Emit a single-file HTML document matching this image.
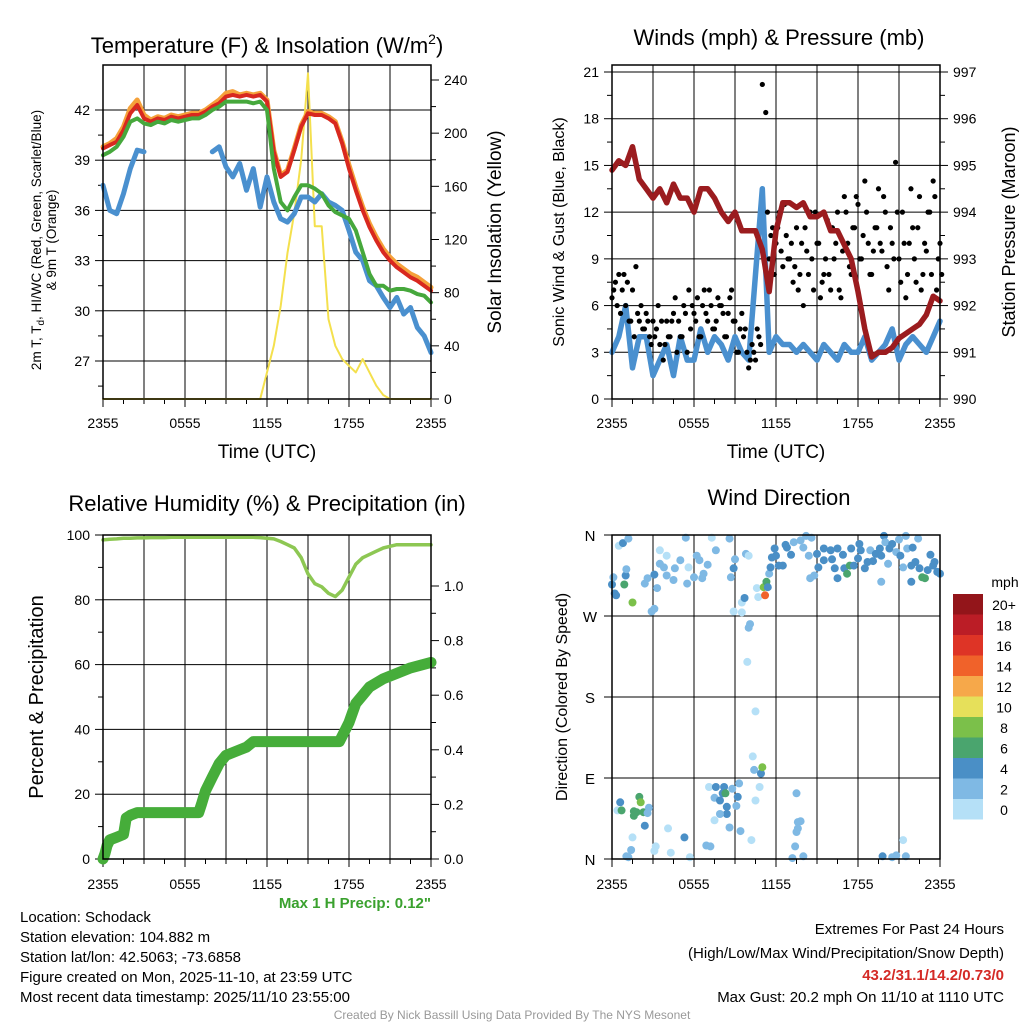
<!DOCTYPE html>
<html><head><meta charset="utf-8"><style>
html,body{margin:0;padding:0;background:#fff}
svg{display:block;font-family:"Liberation Sans",Arial,sans-serif}
</style></head><body>
<svg id="c" width="1024" height="1024" viewBox="0 0 1024 1024">
<g id="g"></g>
<text x="267" y="53" font-size="22" text-anchor="middle">Temperature (F) &amp; Insolation (W/m<tspan dy="-9" font-size="14">2</tspan><tspan dy="9">)</tspan></text>
<text x="779" y="45" font-size="22" text-anchor="middle">Winds (mph) &amp; Pressure (mb)</text>
<text x="267" y="511" font-size="22" text-anchor="middle">Relative Humidity (%) &amp; Precipitation (in)</text>
<text x="779" y="505" font-size="22" text-anchor="middle">Wind Direction</text>
<text x="267" y="458" font-size="19" text-anchor="middle">Time (UTC)</text>
<text x="776" y="458" font-size="19" text-anchor="middle">Time (UTC)</text>
<text transform="translate(41,240) rotate(-90)" font-size="13.5" text-anchor="middle">2m T, T<tspan font-size="10" dy="3">d</tspan><tspan dy="-3">, HI/WC (Red, Green, Scarlet/Blue)</tspan></text>
<text transform="translate(56,240) rotate(-90)" font-size="13.5" text-anchor="middle">&amp; 9m T (Orange)</text>
<text transform="translate(501,232) rotate(-90)" font-size="19" text-anchor="middle">Solar Insolation (Yellow)</text>
<text transform="translate(564,232) rotate(-90)" font-size="16" text-anchor="middle">Sonic Wind &amp; Gust (Blue, Black)</text>
<text transform="translate(1015,232) rotate(-90)" font-size="18" text-anchor="middle">Station Pressure (Maroon)</text>
<text transform="translate(43,697) rotate(-90)" font-size="20" text-anchor="middle">Percent &amp; Precipitation</text>
<text transform="translate(567,697) rotate(-90)" font-size="16" text-anchor="middle">Direction (Colored By Speed)</text>
<text x="431" y="908" font-size="15" font-weight="bold" fill="#3aa12e" text-anchor="end">Max 1 H Precip: 0.12"</text>
<g font-size="15">
<text x="20" y="922">Location: Schodack</text>
<text x="20" y="942">Station elevation: 104.882 m</text>
<text x="20" y="962">Station lat/lon: 42.5063; -73.6858</text>
<text x="20" y="982">Figure created on Mon, 2025-11-10, at 23:59 UTC</text>
<text x="20" y="1002">Most recent data timestamp: 2025/11/10 23:55:00</text>
</g>
<g font-size="15" text-anchor="end">
<text x="1004" y="934">Extremes For Past 24 Hours</text>
<text x="1004" y="958">(High/Low/Max Wind/Precipitation/Snow Depth)</text>
<text x="1004" y="980" fill="#d42a26" font-weight="bold">43.2/31.1/14.2/0.73/0</text>
<text x="1004" y="1002">Max Gust: 20.2 mph On 11/10 at 1110 UTC</text>
</g>
<text x="512" y="1019" font-size="12" fill="#999" text-anchor="middle">Created By Nick Bassill Using Data Provided By The NYS Mesonet</text>
</svg>
<script>
// ---- data ----
const timeLabels=["2355","0555","1155","1755","2355"];
const tempTicks=[27,30,33,36,39,42];
const solarTicks=[0,40,80,120,160,200,240];
const windTicks=[0,3,6,9,12,15,18,21];
const presTicks=[990,991,992,993,994,995,996,997];
const rhTicks=[0,20,40,60,80,100];
const precTicks=[0,0.2,0.4,0.6,0.8,1.0];
const dirTicks=["N","E","S","W","N"];
const tempRed=[39.7,39.9,40.1,40.8,41.8,42.3,41.5,41.3,41.5,41.4,41.6,41.5,41.6,41.7,41.7,41.9,42.2,42.4,42.8,42.9,42.8,42.9,42.8,42.9,42.5,39.5,38.0,38.3,39.6,41.0,41.8,41.7,41.7,41.5,41.2,40.0,38.5,37.2,36.0,35.0,34.2,33.5,33.0,32.6,32.3,32.0,31.8,31.5,31.2];
const temp9m=[39.8,40.0,40.3,41.0,42.1,42.6,41.7,41.4,41.6,41.5,41.7,41.6,41.7,41.8,41.8,42.0,42.3,42.6,43.0,43.1,42.9,43.0,42.9,43.0,42.6,39.6,38.1,38.4,39.7,41.1,41.9,41.8,41.8,41.6,41.3,40.1,38.7,37.4,36.2,35.2,34.4,33.7,33.2,32.8,32.5,32.2,32.0,31.7,31.4];
const tempGreen=[39.3,39.5,39.8,40.4,41.3,41.5,41.2,41.1,41.3,41.2,41.4,41.3,41.4,41.5,41.5,41.7,42.0,42.2,42.5,42.5,42.5,42.5,42.4,42.5,42.0,38.5,36.5,36.0,36.8,37.5,37.5,37.3,37.0,36.3,35.9,35.7,35.5,34.8,33.5,32.2,31.5,31.5,31.2,31.3,31.3,31.2,31.0,30.9,30.5];
const dewBlue=[37.5,36.0,35.8,37.0,38.5,39.6,39.5,null,null,null,null,null,null,null,null,null,39.5,39.8,38.6,38.0,38.8,37.2,38.5,36.2,38.0,36.5,35.5,35.3,35.8,36.8,36.8,36.5,37.0,36.5,36.3,36.0,34.8,33.5,33.0,31.8,31.5,30.8,30.2,30.8,29.8,30.2,29.0,28.5,27.5];
const solar=[0,0,0,0,0,0,0,0,0,0,0,0,0,0,0,0,0,0,0,0,0,0,0,0,20,40,70,110,140,180,245,130,130,60,40,30,25,20,30,20,10,3,0,0,0,0,0,0,0];
const pressure=[994.9,995.1,995.0,995.4,994.7,994.5,994.3,994.5,994.2,994.6,994.3,994.3,994.0,994.5,994.5,994.3,994.0,993.8,994.0,993.6,993.6,993.6,993.2,992.3,993.6,994.2,994.2,994.1,994.2,993.9,993.9,994.0,993.6,993.6,993.3,993.0,992.3,991.5,990.9,991.0,991.0,991.1,991.3,991.4,991.5,991.6,991.8,992.2,992.1];
const sonicWind=[3,4,6,2,4,4,1.5,2.5,3.5,1.5,4,2.5,2.5,4.5,3,4,3.5,2.5,4,3,2.5,8,13.5,3,4,3.5,3.5,3,3.5,3,2.5,3.5,3,2.5,3.5,3,3,4,2.5,3,3.5,4.5,2.5,3.5,4,3.5,3,4,5];
const gusts=[6.5,7.5,8,7,6,5,7,8.5,5,4.5,5.5,4,5,4.5,3.5,2.5,5,4,5.5,3,4,6,3,4.5,5.5,6.5,4,7,5,6,4.5,6.5,6,4,5.5,7,5,3,5.5,4.5,2,3.5,2.5,4,20.2,18.4,9,11,10,12,8.5,10.5,9,7.5,11,8,6,9.5,12,7,10,6.5,8,11.5,7,9,12,6.5,13,10,8,11,12.5,9,14,10,8,11,13.5,9.5,12,7,10,15.2,9,12,6.5,10,11,7.5,13,8,9.5,12,14,7,10];
const gusts2=[7,6,5.5,8,7.5,5,4,5.5,6,4.5,5,3.5,4,6,5,3.5,4,5,6.5,5,4,5.5,7,6,5,4,6,5.5,7,4.5,5,6,5.5,4,6.5,5,3,4.5,4,3,2.5,3,4.5,3.5,9,12,10.5,8,11,9.5,12.5,9,10,8.5,7,10,11,8,9,12,10,7.5,9,8,11,10,7,9.5,12,8.5,11,13,9,10.5,12,8,9.5,11,10,13,8.5,11,9,12,7.5,10,8,13.5,9,11,7,10,12,8,13,9,8];
const rh=[98.5,98.7,98.8,99.0,99.0,99.1,99.1,99.2,99.2,99.2,99.3,99.3,99.3,99.3,99.3,99.3,99.3,99.3,99.3,99.3,99.3,99.3,99.3,99.2,99.0,98.8,98.0,97.0,96.0,93.0,88.0,85.0,84.0,82.0,81.0,83.0,87.0,91.0,93.0,94.0,95.0,96.0,96.5,97.0,97.0,97.0,97.0,97.0,97.0];
const precipTimes=[0,0.15,0.3,0.5,1,1.5,1.6,1.7,2,2.5,7,7.2,7.5,8,8.5,9,10,10.5,11,11.5,17.3,17.6,18,18.5,19,19.5,20.5,21.5,22.5,24];
const precipVals=[0,0.02,0.05,0.07,0.08,0.09,0.12,0.15,0.16,0.17,0.17,0.2,0.25,0.3,0.35,0.38,0.4,0.41,0.43,0.43,0.43,0.46,0.5,0.57,0.6,0.63,0.66,0.68,0.7,0.72];
const dirTimes=[0,0.1,0.2,0.3,0.9,0.5,0.8,1.2,1.0,1.05,1.5,2.4,2.6,2.9,3.1,3.1,3.3,3.5,4.0,3.5,3.8,4.0,4.5,4.6,5.0,5.4,5.5,5.6,6.0,6.2,6.4,6.6,6.7,7.0,7.3,7.6,8.6,8.7,8.9,9.0,8.9,9.5,9.5,9.7,9.8,10.0,10.1,10.0,9.9,10.6,10.7,11.1,11.3,11.4,11.2,11.5,11.6,11.7,11.9,12.0,12.2,12.5,12.7,12.8,13.1,13.3,13.8,14.0,14.2,14.4,14.5,14.6,14.8,15.0,15.1,15.5,15.5,16.0,16.1,16.3,16.5,16.5,16.9,17.0,17.2,17.4,17.5,17.7,18.0,18.1,18.2,18.5,18.7,18.9,19.1,19.3,19.6,19.7,19.9,20.0,20.2,20.3,20.5,20.8,21.0,21.1,21.3,21.5,21.6,21.9,22.0,22.2,22.4,22.5,22.7,22.9,23.1,23.3,23.5,23.6,23.8,24.0,21.9,19.7,
10.5,10.3,10.4,10.9,11.0,
0.6,0.4,0.7,2.0,2.1,1.6,1.8,2.3,2.6,2.7,1.6,2.4,1.5,1.4,1.2,1.05,3.2,3.1,4.1,4.3,5.3,5.7,6.9,7.2,7.1,7.6,8.2,7.5,7.9,8.1,8.3,8.4,8.4,7.9,7.5,8.6,8.8,9.2,9.1,9.3,9.4,10.2,10.5,10.8,13.5,13.6,13.8,13.5,13.6,13.4,13.2,14.0,19.8,20.5,20.8,21.3,21.5];
const dirDeg=[305,313,295,293,305,348,351,356,315,322,285,306,312,275,278,316,301,343,337,328,324,315,310,323,332,357,306,324,313,337,332,312,317,327,357,343,356,313,323,333,275,274,285,290,339,337,261,257,219,301,291,302,308,302,293,317,324,335,345,337,326,326,349,346,338,352,354,346,359,337,312,357,315,339,324,345,332,343,333,323,345,312,338,323,317,326,345,326,334,350,343,323,330,343,331,339,345,337,359,352,328,345,350,341,355,337,324,359,345,326,346,330,356,323,313,312,321,338,326,330,319,317,308,308,
164,114,99,95,102,
63,54,54,69,63,53,52,52,51,57,48,37,24,10,2,3,14,9,34,7,24,2,15,14,80,80,80,68,65,73,73,58,50,50,43,35,78,69,59,84,31,21,65,80,73,41,42,30,34,14,1,3,3,2,4,21,3];
const dirSpeed=[4,2,4,4,6,0,4,2,4,2,8,2,2,2,2,4,2,0,0,2,2,2,2,2,2,2,2,0,2,2,2,2,2,2,0,2,2,2,4,2,0,0,0,4,2,0,2,2,0,0,0,8,6,4,14,2,4,4,4,4,4,4,4,4,4,2,2,2,2,2,2,2,2,4,4,4,4,4,4,4,4,4,4,4,6,6,4,4,4,4,4,4,4,2,4,4,4,4,4,2,2,4,4,2,2,4,2,2,2,4,4,4,2,4,6,6,4,4,4,4,4,4,4,2,
0,0,2,4,8,
4,0,6,6,8,6,6,6,2,2,6,4,0,2,2,2,0,0,0,0,4,0,2,2,0,4,4,2,4,4,6,4,4,2,0,2,2,4,2,2,2,0,0,0,2,2,2,2,2,2,2,2,4,2,2,0,2];
const cbLabels=["20+","18","16","14","12","10","8","6","4","2","0"];
const cbColors=["#93151a","#bb1d26","#de3426","#f0622a","#f6a84a","#e6e05a","#7bc04a","#4aa56e","#4a8fc6","#7fb9e4","#b5e0f7"];

const NS="http://www.w3.org/2000/svg";
const G=document.getElementById('g');
function el(tag,at,parent){const e=document.createElementNS(NS,tag);for(const k in at)e.setAttribute(k,at[k]);(parent||G).appendChild(e);return e;}
function lin(d0,d1,p0,p1){return v=>p0+(v-d0)*(p1-p0)/(d1-d0);}
function txt(x,y,s,anchor,size,name){const t=el('text',{x:x,y:y,'text-anchor':anchor,'font-size':size});t.textContent=s;

return t;}
function pathFrom(xs,ys,X,Y){let d='',pen=false;for(let i=0;i<xs.length;i++){if(ys[i]==null){pen=false;continue;}d+=(pen?'L':'M')+X(xs[i]).toFixed(1)+' '+Y(ys[i]).toFixed(1);pen=true;}return d;}
function line(xs,ys,X,Y,color,w,name){const p=el('path',{d:pathFrom(xs,ys,X,Y),fill:'none',stroke:color,'stroke-width':w,'stroke-linejoin':'round','stroke-linecap':'round'});

return p;}
const half=tempRed.map((_,i)=>i*0.5);
const quarter=gusts.map((_,i)=>i*0.25);

function frame(L,T,R,B,name,labOff){
  const X=lin(0,24,L,R);
  for(let h=3;h<24;h+=3){const l=el('line',{x1:X(h),x2:X(h),y1:T,y2:B,stroke:'#000','stroke-width':1});
  
  }
  for(let h=0;h<=24;h+=1.5){const major=h%6===0;el('line',{x1:X(h),x2:X(h),y1:B,y2:B+(major?8:5),stroke:'#000','stroke-width':1});}
  timeLabels.forEach((s,i)=>txt(X(i*6),B+labOff,s,'middle',14,name+'-x-tick'));
  return X;
}
function box(L,T,R,B,name){const r=el('rect',{x:L,y:T,width:R-L,height:B-T,fill:'none',stroke:'#000','stroke-width':1.5});

}
function yaxis(ticks,Y,x,side,L,R,grid,name,fmt){
  ticks.forEach(v=>{const y=Y(v);
    if(grid){const g=el('line',{x1:L,x2:R,y1:y,y2:y,stroke:'#000','stroke-width':1});
    
    }
    el('line',{x1:x,x2:x+side*8,y1:y,y2:y,stroke:'#000'});
    txt(x+side*13,y+5,fmt?fmt(v):String(v),side<0?'end':'start',14,name+'-tick');
  });
  for(let i=0;i<ticks.length-1;i++){const m=Y((ticks[i]+ticks[i+1])/2);el('line',{x1:x,x2:x+side*5,y1:m,y2:m,stroke:'#000'});}
}

// ---- Panel 1: temperature ----
(function(){
  const L=103,T=65,R=431,B=399;
  const X=frame(L,T,R,B,'temp',29);
  const Y=lin(27,42,361,110), YS=lin(0,240,399,80);
  yaxis(tempTicks,Y,L,-1,L,R,true,'temp-y');
  const lastMinor=Y(25.5); el('line',{x1:L,x2:L-5,y1:lastMinor,y2:lastMinor,stroke:'#000'});
  yaxis(solarTicks,YS,R,1,L,R,false,'solar-y');
  line(half,solar,X,YS,'#f4e04d',2,'solar-insolation-line');
  line(half,dewBlue,X,Y,'#4a90cf',5,'dewpoint-line');
  line(half,temp9m,X,Y,'#f5a13a',5,'temp-9m-line');
  line(half,tempRed,X,Y,'#d8281f',4,'temp-2m-line');
  line(half,tempGreen,X,Y,'#46a83c',4,'heat-index-wind-chill-line');
  box(L,T,R,B,'temp');
})();
// ---- Panel 2: winds ----
(function(){
  const L=612,T=65,R=940,B=399;
  const X=frame(L,T,R,B,'wind',29);
  const Y=lin(0,21,399,72), YP=lin(990,997,399,72);
  yaxis(windTicks,Y,L,-1,L,R,true,'wind-y');
  yaxis(presTicks,YP,R,1,L,R,false,'pressure-y');
  line(half,sonicWind,X,Y,'#4a90cf',5.5,'sonic-wind-line');
  gusts.forEach((g,i)=>{const c=el('circle',{cx:X(quarter[i]),cy:Y(g),r:2.6,fill:'#000'});
  
  });
  gusts2.forEach((g,i)=>{const c=el('circle',{cx:X(quarter[i]+0.125),cy:Y(g),r:2.6,fill:'#000'});
  
  });
  line(half,pressure,X,YP,'#9b1c1f',5.5,'pressure-line');
  box(L,T,R,B,'wind');
})();
// ---- Panel 3: humidity ----
(function(){
  const L=103,T=535,R=431,B=859;
  const X=frame(L,T,R,B,'rh',30);
  const Y=lin(0,100,859,535), YP=lin(0,1,859,586);
  yaxis(rhTicks,Y,L,-1,L,R,true,'rh-y');
  yaxis(precTicks,YP,R,1,L,R,false,'precip-y',v=>v.toFixed(1));
  line(half,rh,X,Y,'#8dc753',3.5,'relative-humidity-line');
  line(precipTimes,precipVals,X,YP,'#46ad3a',11,'precipitation-line');
  box(L,T,R,B,'rh');
})();
// ---- Panel 4: direction ----
(function(){
  const L=612,T=535,R=940,B=859;
  const X=frame(L,T,R,B,'dir',30);
  const Y=lin(0,360,859,535);
  dirTicks.forEach((s,i)=>{const y=Y(i*90);
    if(i>0&&i<4){const g=el('line',{x1:L,x2:R,y1:y,y2:y,stroke:'#000'});
    
    }
    el('line',{x1:L,x2:L-8,y1:y,y2:y,stroke:'#000'});
    txt(L-22,y+6,s,'middle',15,'dir-y-tick');});
  const col=s=>cbColors[10-Math.min(10,Math.round(s/2))];
  dirTimes.forEach((t,i)=>{const c=el('circle',{cx:X(t),cy:Y(dirDeg[i]),r:4,fill:col(dirSpeed[i])});
  
  });
  box(L,T,R,B,'dir');
  const cb=el('g',{});
  
  
  const h=20.5;
  cbColors.forEach((c,i)=>{el('rect',{x:953,y:594+i*h,width:30,height:h,fill:c},cb);
    txt(1004,594+i*h+16,cbLabels[i],'middle',14,'colorbar-label');});
  txt(1005,587,'mph','middle',14,'colorbar-title');
})();
</script>
</body></html>
